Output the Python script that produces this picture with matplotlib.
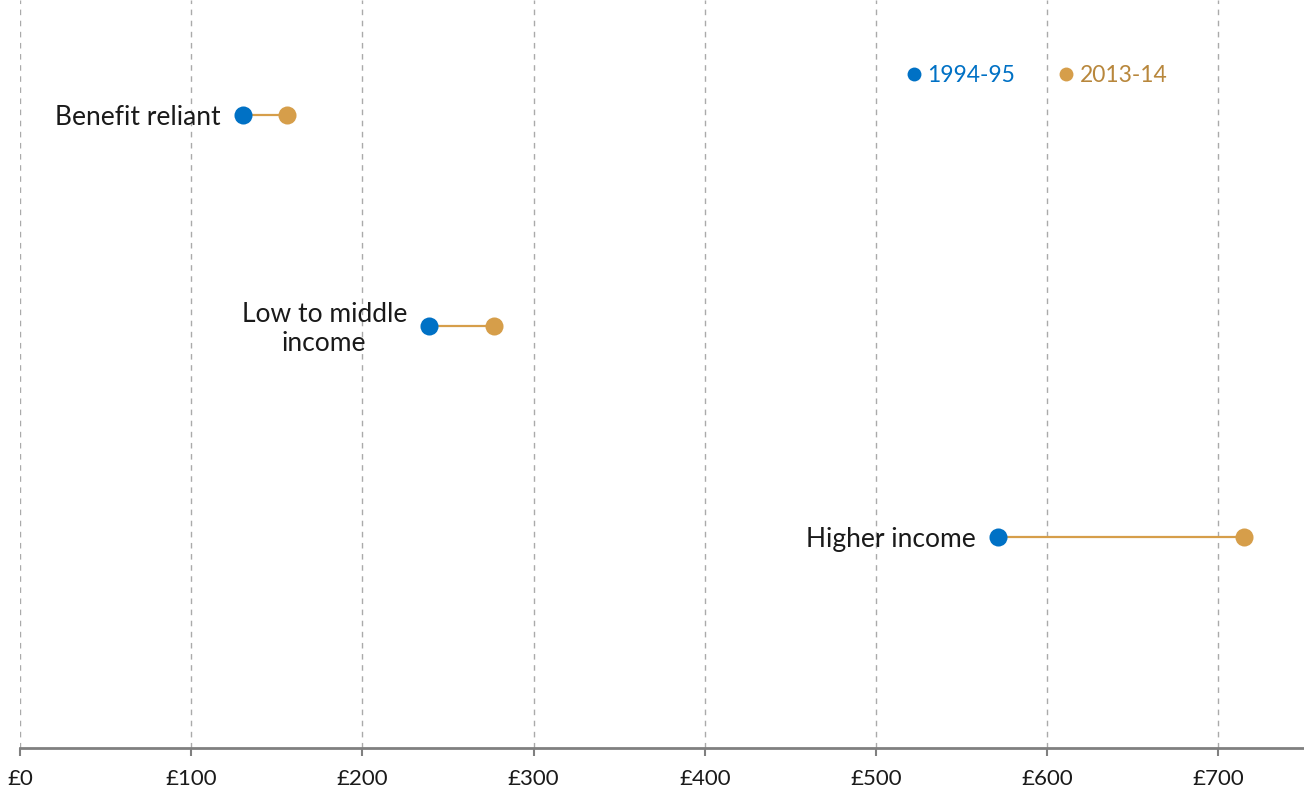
import matplotlib.pyplot as plt

plt.rcParams['font.family'] = ['Lato', 'DejaVu Sans']

groups = ['Benefit reliant', 'Low to middle\nincome', 'Higher income']
val_1994 = [130, 239, 571]
val_2013 = [156, 277, 715]
ticks = [0, 100, 200, 300, 400, 500, 600, 700]
tick_labels = ['£0', '£100', '£200', '£300', '£400', '£500', '£600', '£700']

blue = '#0071c5'
gold = '#d69e4a'
gold_text = '#b8873c'

fig = plt.figure(figsize=(13.04, 7.93), dpi=100)
ax = fig.add_axes([20/1304, 45/793, 1284/1304, 748/793])

ypos = [1, 2, 3]
for y, a, b, name in zip(ypos, val_1994, val_2013, groups):
    ax.plot([a, b], [y, y], color=gold, lw=1.6, zorder=2)
    ax.plot(a, y, 'o', color=blue, ms=13, mec='none', zorder=3)
    ax.plot(b, y, 'o', color=gold, ms=13, mec='none', zorder=3)
    ax.text(a - 13, y + 0.012, name, ha='right', va='center', multialignment='center',
            fontsize=19, color='#1a1a1a', linespacing=1.2)

# legend drawn as labelled dots
ax.plot(522, 0.806, 'o', color=blue, ms=10, mec='none')
ax.text(530, 0.812, '1994-95', color=blue, fontsize=16.5, va='center', ha='left')
ax.plot(611, 0.806, 'o', color=gold, ms=10, mec='none')
ax.text(619, 0.812, '2013-14', color=gold_text, fontsize=16.5, va='center', ha='left')

ax.set_xlim(0, 750)
ax.set_ylim(4, 0.455)
ax.set_xticks(ticks)
ax.set_xticklabels(tick_labels, fontsize=16, color='#1a1a1a')
ax.set_yticks([])
ax.grid(axis='x', linestyle=(0, (4, 4)), color='#aaaaaa', lw=1)
ax.set_axisbelow(True)
for s in ['top', 'right', 'left']:
    ax.spines[s].set_visible(False)
ax.spines['bottom'].set_color('#808080')
ax.spines['bottom'].set_linewidth(2)
ax.tick_params(axis='x', length=6, width=1.5, color='#808080', pad=9)

fig.savefig('out.png', dpi=100)
